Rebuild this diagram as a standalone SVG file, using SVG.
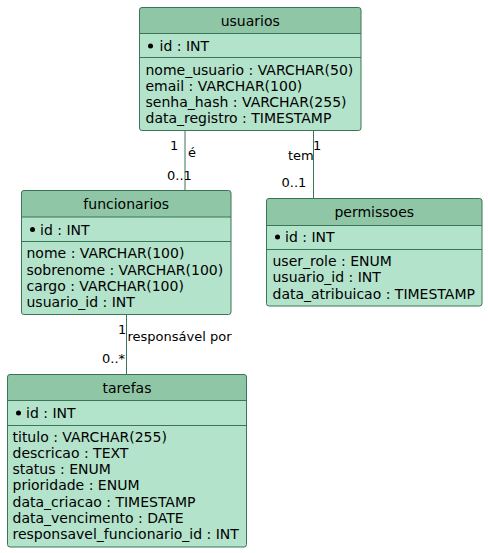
<svg xmlns="http://www.w3.org/2000/svg" width="488" height="553" viewBox="0 0 488 553">
<style>
.body{fill:#B3E3CB;stroke:none}
.head{fill:#8FC6A6;stroke:none}
.frame{fill:none;stroke:#3B7557;stroke-width:1}
.sep{stroke:#3B7557;stroke-width:1}
.t{font-family:"DejaVu Sans",sans-serif;font-size:14px;fill:#000}
.title{text-anchor:middle}
.lbl{font-family:"DejaVu Sans",sans-serif;font-size:13px;fill:#000}
.conn{stroke:#3B7557;stroke-width:1;fill:none}
.pk{fill:#000}
</style>
<g id="connectors">
<line class="conn" x1="185" y1="130.5" x2="185" y2="190.5"/>
<line class="conn" x1="313.5" y1="130.5" x2="313.5" y2="198.5"/>
<line class="conn" x1="126.5" y1="314.5" x2="126.5" y2="374.5"/>
<text class="lbl" x="170" y="150">1</text>
<text class="lbl" x="188" y="157">é</text>
<text class="lbl" x="167" y="180">0..1</text>
<text class="lbl" x="288" y="160">tem</text>
<text class="lbl" x="313" y="150">1</text>
<text class="lbl" x="281.5" y="187">0..1</text>
<text class="lbl" x="118" y="334">1</text>
<text class="lbl" x="127.5" y="341">responsável por</text>
<text class="lbl" x="102" y="363">0..*</text>
</g>
<g id="usuarios">
<rect class="body" x="139.5" y="7.5" width="221.5" height="123" rx="2.5"/>
<path class="head" d="M139.5,33.5 V10 a2.5,2.5 0 0 1 2.5,-2.5 H358.5 a2.5,2.5 0 0 1 2.5,2.5 V33.5 Z"/>
<line class="sep" x1="139.5" y1="33.5" x2="361" y2="33.5"/>
<line class="sep" x1="139.5" y1="57.5" x2="361" y2="57.5"/>
<rect class="frame" x="139.5" y="7.5" width="221.5" height="123" rx="2.5"/>
<text class="t title" x="250.25" y="26">usuarios</text>
<circle class="pk" cx="150.5" cy="46" r="2.5"/>
<text class="t" x="159.5" y="51">id : INT</text>
<text class="t" x="145.5" y="75">nome_usuario : VARCHAR(50)</text>
<text class="t" x="145.5" y="91">email : VARCHAR(100)</text>
<text class="t" x="145.5" y="107">senha_hash : VARCHAR(255)</text>
<text class="t" x="145.5" y="123">data_registro : TIMESTAMP</text>
</g>
<g id="funcionarios">
<rect class="body" x="21.5" y="190.5" width="209.5" height="124" rx="2.5"/>
<path class="head" d="M21.5,217 V193 a2.5,2.5 0 0 1 2.5,-2.5 H228.5 a2.5,2.5 0 0 1 2.5,2.5 V217 Z"/>
<line class="sep" x1="21.5" y1="217" x2="231" y2="217"/>
<line class="sep" x1="21.5" y1="241.5" x2="231" y2="241.5"/>
<rect class="frame" x="21.5" y="190.5" width="209.5" height="124" rx="2.5"/>
<text class="t title" x="126.25" y="209">funcionarios</text>
<circle class="pk" cx="32.5" cy="229.5" r="2.5"/>
<text class="t" x="40" y="234.5">id : INT</text>
<text class="t" x="26.5" y="258">nome : VARCHAR(100)</text>
<text class="t" x="26.5" y="274.5">sobrenome : VARCHAR(100)</text>
<text class="t" x="26.5" y="290.5">cargo : VARCHAR(100)</text>
<text class="t" x="26.5" y="307">usuario_id : INT</text>
</g>
<g id="permissoes">
<rect class="body" x="266.5" y="198.5" width="215.5" height="107.5" rx="2.5"/>
<path class="head" d="M266.5,225.5 V201 a2.5,2.5 0 0 1 2.5,-2.5 H479.5 a2.5,2.5 0 0 1 2.5,2.5 V225.5 Z"/>
<line class="sep" x1="266.5" y1="225.5" x2="482" y2="225.5"/>
<line class="sep" x1="266.5" y1="249.5" x2="482" y2="249.5"/>
<rect class="frame" x="266.5" y="198.5" width="215.5" height="107.5" rx="2.5"/>
<text class="t title" x="374.25" y="217">permissoes</text>
<circle class="pk" cx="277.5" cy="237" r="2.5"/>
<text class="t" x="285" y="242">id : INT</text>
<text class="t" x="272.5" y="266">user_role : ENUM</text>
<text class="t" x="272.5" y="282">usuario_id : INT</text>
<text class="t" x="272.5" y="298.5">data_atribuicao : TIMESTAMP</text>
</g>
<g id="tarefas">
<rect class="body" x="7.5" y="374.5" width="239" height="172.5" rx="2.5"/>
<path class="head" d="M7.5,400.5 V377 a2.5,2.5 0 0 1 2.5,-2.5 H244 a2.5,2.5 0 0 1 2.5,2.5 V400.5 Z"/>
<line class="sep" x1="7.5" y1="400.5" x2="246.5" y2="400.5"/>
<line class="sep" x1="7.5" y1="425.5" x2="246.5" y2="425.5"/>
<rect class="frame" x="7.5" y="374.5" width="239" height="172.5" rx="2.5"/>
<text class="t title" x="127" y="392.5">tarefas</text>
<circle class="pk" cx="18.5" cy="413" r="2.5"/>
<text class="t" x="26" y="418">id : INT</text>
<text class="t" x="12.5" y="441.5">titulo : VARCHAR(255)</text>
<text class="t" x="12.5" y="457.5">descricao : TEXT</text>
<text class="t" x="12.5" y="474">status : ENUM</text>
<text class="t" x="12.5" y="490">prioridade : ENUM</text>
<text class="t" x="12.5" y="506.5">data_criacao : TIMESTAMP</text>
<text class="t" x="12.5" y="522.5">data_vencimento : DATE</text>
<text class="t" x="12.5" y="539">responsavel_funcionario_id : INT</text>
</g>
</svg>
